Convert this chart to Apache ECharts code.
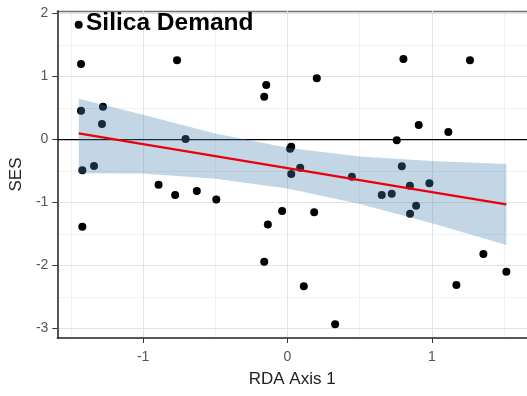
<!DOCTYPE html>
<html>
<head>
<meta charset="utf-8">
<script src="https://cdn.jsdelivr.net/npm/echarts@6/dist/echarts.min.js"></script>
<style>html,body{margin:0;padding:0;background:#fff}#c{width:527px;height:396px}</style>
</head>
<body>
<div id="c"></div>
<script>
// Observed points (RDA Axis 1, SES)
const pointX = [-1.446, -1.43, -1.43, -1.278, -1.285, -0.765, -0.706, -1.421, -1.34, -0.893, -0.778, -0.628, -0.493, -0.147, -0.161,
  -1.421, -0.136, -0.161, 0.203, 0.803, 1.264, 0.909, 1.114, 0.757, 0.026, 0.018, 0.026, 0.088, 0.446, 0.792, 0.848, 0.983, 0.653, 0.722,
  0.891, 0.849, -0.037, 0.185, 0.113, 0.330, 1.170, 1.357, 1.516];
const pointY = [1.82, 1.20, 0.457, 0.52, 0.246, 1.257, 0.008, -0.489, -0.42, -0.717, -0.88, -0.817, -0.95, 0.865, 0.68,
  -1.384, -1.35, -1.94, 0.971, 1.278, 1.257, 0.23, 0.119, -0.013, -0.114, -0.146, -0.548, -0.447, -0.59, -0.426, -0.733, -0.695, -0.881, -0.86,
  -1.05, -1.178, -1.135, -1.156, -2.33, -2.93, -2.31, -1.817, -2.10];
// Fitted line and confidence band
const bandX = [-1.446, -1.0, -0.5, 0, 0.5, 1.0, 1.516];
const fitY = [0.098, -0.0725, -0.263, -0.454, -0.645, -0.835, -1.03];
const bandLower = [-0.537, -0.54, -0.623, -0.776, -1.022, -1.328, -1.675];
const bandUpper = [0.648, 0.395, 0.097, -0.132, -0.268, -0.342, -0.39];
const xTicks = [-1, 0, 1];
const yTicks = [-3, -2, -1, 0, 1, 2];
const chartTitle = 'Silica Demand';

const X_MIN = -1.594, X_MAX = 1.659, Y_MIN = -3.15, Y_MAX = 2.04;
const FONT = 'Liberation Sans, Arial, sans-serif';
const chart = echarts.init(document.getElementById('c'), null, {renderer: 'canvas'});

const gridAxis = (extra) => Object.assign({
  type: 'value', gridIndex: 0, axisLine: {show: false}, axisTick: {show: false}, axisLabel: {show: false}
}, extra);

chart.setOption({
  animation: false,
  backgroundColor: '#fff',
  grid: {left: 57, right: 0, top: 11, bottom: 58, show: false, containLabel: false},
  graphic: [{
    type: 'text', z: 100,
    style: {x: 86, y: 23, text: chartTitle, font: 'bold 24.5px ' + FONT, fill: '#000', verticalAlign: 'middle', align: 'left'}
  }],
  xAxis: [
    {
      type: 'value', min: X_MIN, max: X_MAX, splitNumber: 3, position: 'bottom',
      name: 'RDA Axis 1', nameLocation: 'middle', nameGap: 33,
      nameTextStyle: {fontFamily: FONT, fontSize: 17, color: '#222'},
      axisLine: {show: true, onZero: false, lineStyle: {color: '#222', width: 1.5}},
      axisTick: {show: true, length: 5, customValues: xTicks, lineStyle: {color: '#333'}},
      axisLabel: {customValues: xTicks, fontFamily: FONT, fontSize: 14, color: '#555', margin: 12},
      splitLine: {show: true, lineStyle: {color: '#e3e3e3', width: 1}}, z: 3
    },
    gridAxis({min: X_MIN, max: X_MAX, splitNumber: 6, position: 'top',
      axisLine: {show: true, onZero: false, lineStyle: {color: '#707070', width: 1.4}},
      splitLine: {show: true, lineStyle: {color: '#f1f1f1', width: 1}}, z: 1})
  ],
  yAxis: [
    {
      type: 'value', min: Y_MIN, max: Y_MAX, splitNumber: 5, position: 'left',
      name: 'SES', nameLocation: 'middle', nameGap: 27, nameRotate: 90,
      nameTextStyle: {fontFamily: FONT, fontSize: 17, color: '#222'},
      axisLine: {show: true, onZero: false, lineStyle: {color: '#222', width: 1.5}},
      axisTick: {show: true, length: 5, customValues: yTicks, lineStyle: {color: '#333'}},
      axisLabel: {customValues: yTicks, fontFamily: FONT, fontSize: 14, color: '#555', margin: 9},
      splitLine: {show: true, lineStyle: {color: '#e3e3e3', width: 1}}, z: 3
    },
    gridAxis({min: Y_MIN, max: Y_MAX, splitNumber: 10, position: 'right',
      splitLine: {show: true, lineStyle: {color: '#f1f1f1', width: 1}}, z: 1})
  ],
  series: [
    {
      type: 'scatter', xAxisIndex: 0, yAxisIndex: 0, z: 5,
      data: pointX.map((x, i) => [x, pointY[i]]),
      symbolSize: 8, itemStyle: {color: '#000', opacity: 1}, silent: true
    },
    {
      type: 'line', xAxisIndex: 0, yAxisIndex: 0, z: 6,
      data: [[X_MIN, 0], [X_MAX, 0]], symbol: 'none',
      lineStyle: {color: '#000', width: 1.2}, silent: true
    },
    {
      type: 'custom', xAxisIndex: 0, yAxisIndex: 0, z: 7, silent: true,
      data: [[bandX[0], bandUpper[0]]],
      renderItem: function (params, api) {
        const pts = [];
        for (let i = 0; i < bandX.length; i++) pts.push(api.coord([bandX[i], bandUpper[i]]));
        for (let i = bandX.length - 1; i >= 0; i--) pts.push(api.coord([bandX[i], bandLower[i]]));
        return {type: 'polygon', shape: {points: pts}, style: {fill: 'rgba(70,130,180,0.33)'}};
      }
    },
    {
      type: 'line', xAxisIndex: 0, yAxisIndex: 0, z: 8,
      data: bandX.map((x, i) => [x, fitY[i]]), symbol: 'none',
      lineStyle: {color: '#e8000b', width: 2.2}, silent: true
    }
  ]
});
</script>
</body>
</html>
